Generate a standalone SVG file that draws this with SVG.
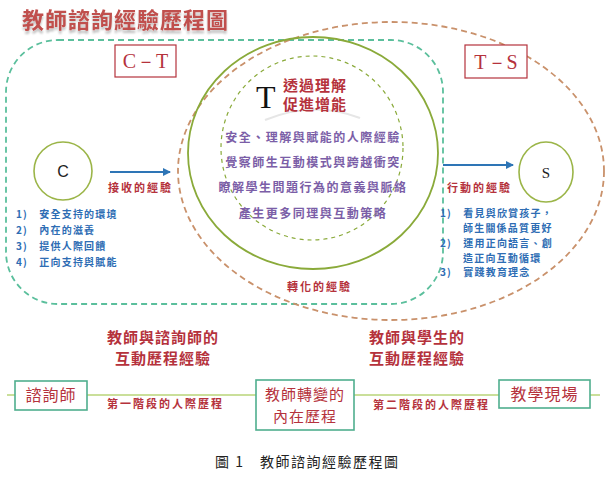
<svg xmlns="http://www.w3.org/2000/svg" width="607" height="495" viewBox="0 0 607 495">
<defs>
<style>
.cjk{font-family:"Noto Sans CJK TC","Noto Sans CJK SC",sans-serif;}
.red{fill:#b5323c;}
.blue{fill:#2e6db4;font-size:10px;font-weight:bold;letter-spacing:1.2px;}
.pur{fill:#7b5ea7;font-size:12px;font-weight:bold;letter-spacing:1.5px;}
.lbl{fill:#b5323c;font-size:11px;font-weight:bold;letter-spacing:2px;}
.box{fill:#fff;stroke:#4fae8e;stroke-width:1.6;}
.rbox{fill:#fff;stroke:#b5323c;stroke-width:1.2;}
.circ{fill:#fff;stroke:#9bb548;stroke-width:1.6;}
</style>
<marker id="ah" markerWidth="8" markerHeight="8" refX="7" refY="4" orient="auto" markerUnits="userSpaceOnUse">
<path d="M0,0 L8,4 L0,8 Z" fill="#2e75b6"/>
</marker>
<filter id="sh" x="-5%" y="-20%" width="110%" height="160%">
<feGaussianBlur in="SourceAlpha" stdDeviation="1.2"/>
<feOffset dx="0" dy="2.5" result="b"/>
<feComponentTransfer><feFuncA type="linear" slope="0.25"/></feComponentTransfer>
<feMerge><feMergeNode/><feMergeNode in="SourceGraphic"/></feMerge>
</filter>
</defs>
<rect width="607" height="495" fill="#fff"/>

<g id="title">
<text x="22" y="28" class="cjk" font-size="22" font-weight="bold" fill="#c0504d" filter="url(#sh)" letter-spacing="1">教師諮詢經驗歷程圖</text>
</g>

<g id="regions">
<rect x="6" y="40" width="437" height="264" rx="52" ry="52" fill="none" stroke="#5bbf9c" stroke-width="1.8" stroke-dasharray="6,4"/>
<ellipse cx="391" cy="171" rx="213" ry="149" fill="none" stroke="#c9916b" stroke-width="1.8" stroke-dasharray="6,4"/>
<ellipse cx="313" cy="153" rx="125" ry="116" fill="none" stroke="#8aaa3a" stroke-width="1.8"/>
<ellipse cx="312" cy="148" rx="91" ry="92" fill="none" stroke="#8aaa3a" stroke-width="1.2" stroke-dasharray="4,4"/>
<path d="M265,120 Q313,100 360,118" fill="none" stroke="#e6e6e6" stroke-width="2"/>
</g>

<g id="node-CT">
<rect x="115" y="45" width="61" height="32" class="rbox"/>
<text x="145.5" y="68" text-anchor="middle" font-family="Liberation Serif, serif" font-size="20" class="red">C－T</text>
</g>
<g id="node-TS">
<rect x="465" y="45" width="62" height="33" class="rbox"/>
<text x="496" y="69" text-anchor="middle" font-family="Liberation Serif, serif" font-size="20" class="red">T－S</text>
</g>

<g id="node-C">
<ellipse cx="63" cy="171" rx="29" ry="29" class="circ"/>
<text x="63" y="177" text-anchor="middle" font-family="Liberation Sans, sans-serif" font-size="16" fill="#222">C</text>
</g>
<g id="node-S">
<ellipse cx="546" cy="172" rx="27" ry="30" class="circ"/>
<text x="546" y="178" text-anchor="middle" font-family="Liberation Serif, serif" font-size="15" fill="#222">S</text>
</g>

<g id="node-T">
<text x="256" y="108" font-family="Liberation Serif, serif" font-size="32" fill="#111">T</text>
<text x="283" y="91" class="cjk red" font-size="15" font-weight="bold" letter-spacing="1">透過理解</text>
<text x="283" y="110" class="cjk red" font-size="15" font-weight="bold" letter-spacing="1">促進增能</text>
<text x="313" y="142" text-anchor="middle" class="cjk pur">安全、理解與賦能的人際經驗</text>
<text x="313" y="167" text-anchor="middle" class="cjk pur">覺察師生互動模式與跨越衝突</text>
<text x="313" y="192" text-anchor="middle" class="cjk pur">瞭解學生問題行為的意義與脈絡</text>
<text x="313" y="218" text-anchor="middle" class="cjk pur">產生更多同理與互動策略</text>
</g>

<g id="c-list">
<text x="16" y="218" class="cjk blue">1)　安全支持的環境</text>
<text x="16" y="234" class="cjk blue">2)　內在的滋養</text>
<text x="16" y="250" class="cjk blue">3)　提供人際回饋</text>
<text x="16" y="266" class="cjk blue">4)　正向支持與賦能</text>
</g>
<g id="s-list">
<text x="440" y="217" class="cjk blue">1)　看見與欣賞孩子，</text>
<text x="463" y="232" class="cjk blue">師生關係品質更好</text>
<text x="440" y="247" class="cjk blue">2)　運用正向語言、創</text>
<text x="463" y="262" class="cjk blue">造正向互動循環</text>
<text x="440" y="276" class="cjk blue">3)　實踐教育理念</text>
</g>

<g id="connectors">
<line x1="110" y1="172" x2="170" y2="172" stroke="#2e75b6" stroke-width="2.2" marker-end="url(#ah)"/>
<line x1="443" y1="165" x2="513" y2="165" stroke="#2e75b6" stroke-width="2.2" marker-end="url(#ah)"/>
<line x1="7" y1="395" x2="600" y2="395" stroke="#b9d579" stroke-width="1.4"/>
</g>

<g id="edge-labels">
<text x="108" y="192" class="cjk lbl">接收的經驗</text>
<text x="447" y="192" class="cjk lbl">行動的經驗</text>
<text x="287" y="291" class="cjk lbl">轉化的經驗</text>
<text x="107" y="408" class="cjk lbl">第一階段的人際歷程</text>
<text x="373" y="409" class="cjk lbl">第二階段的人際歷程</text>
</g>

<g id="headers">
<text x="163" y="343" text-anchor="middle" class="cjk red" font-size="15" font-weight="bold" letter-spacing="1">教師與諮詢師的</text>
<text x="163" y="364" text-anchor="middle" class="cjk red" font-size="15" font-weight="bold" letter-spacing="1">互動歷程經驗</text>
<text x="417" y="343" text-anchor="middle" class="cjk red" font-size="15" font-weight="bold" letter-spacing="1">教師與學生的</text>
<text x="417" y="364" text-anchor="middle" class="cjk red" font-size="15" font-weight="bold" letter-spacing="1">互動歷程經驗</text>
</g>

<g id="node-counselor">
<rect x="15" y="381" width="72" height="29" class="box"/>
<text x="51" y="401" text-anchor="middle" class="cjk red" font-size="16" letter-spacing="1">諮詢師</text>
</g>
<g id="node-teacher">
<rect x="256" y="380" width="98" height="50" class="box"/>
<text x="305" y="400" text-anchor="middle" class="cjk red" font-size="15" letter-spacing="1">教師轉變的</text>
<text x="305" y="422" text-anchor="middle" class="cjk red" font-size="15" letter-spacing="1">內在歷程</text>
</g>
<g id="node-school">
<rect x="499" y="380" width="91" height="28" class="box"/>
<text x="544.5" y="400" text-anchor="middle" class="cjk red" font-size="16" letter-spacing="1">教學現場</text>
</g>

<g id="caption">
<text x="215" y="467" class="cjk" font-size="14" fill="#222" letter-spacing="1.5">圖 1　教師諮詢經驗歷程圖</text>
</g>
</svg>
